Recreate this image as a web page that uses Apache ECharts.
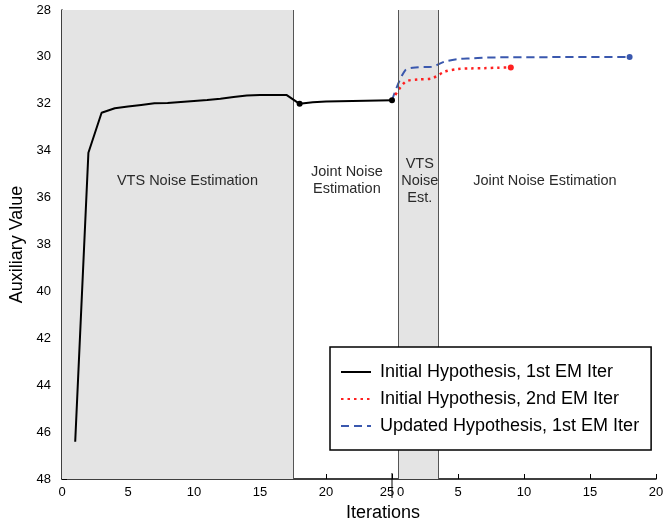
<!DOCTYPE html>
<html style="height: 100%">

<head>
    <meta charset="utf-8">
    <title>Auxiliary value vs iterations</title>
    <script src="https://cdn.jsdelivr.net/npm/echarts@6/dist/echarts.min.js"></script>
</head>

<body style="margin: 0; height: 100%; background: #fff">
    <div id="main" style="width: 663px; height: 522px"></div>

    <script>
        // x positions: second stage iterations are drawn after an offset of 25
        const stageOffset = 25;

        // Initial hypothesis, 1st EM iter (iterations 1..25)
        const initialIters = [1, 2, 3, 4, 5, 6, 7, 8, 9, 10, 11, 12, 13, 14, 15, 16, 17, 18, 19, 20, 21, 22, 23, 24, 25];
        const initial1st = [46.41, 34.09, 32.38, 32.19, 32.12, 32.05, 31.98, 31.97, 31.92, 31.88, 31.84, 31.78, 31.71,
            31.65, 31.62, 31.62, 31.62, 32.0, 31.93, 31.9, 31.89, 31.88, 31.87, 31.86, 31.85];
        const initialMarkers = [18, 25];

        // second stage iterations (0 = last point of the first stage)
        const secondIters = [0, 1, 2, 3, 4, 5, 6, 7, 8, 9, 10, 11, 12, 13, 14, 15, 16, 17, 18];
        const initial2nd = [31.85, 31.07, 30.96, 30.92, 30.63, 30.52, 30.49, 30.48, 30.46, 30.45];
        const updated1st = [31.85, 30.57, 30.44, 30.42, 30.2, 30.09, 30.06, 30.03, 30.02, 30.02, 30.01, 30.01,
            30.01, 30.0, 30.0, 30.0, 30.0, 30.0, 30.0];

        // estimation phases
        const phaseStarts = [0, 17.5, 25.5, 28.5];
        const phaseEnds = [17.5, 25.5, 28.5, 45];
        const phaseNames = ['VTS Noise Estimation', 'Joint Noise\nEstimation', 'VTS\nNoise\nEst.', 'Joint Noise Estimation'];
        const phaseShaded = [true, false, true, false];
        const phaseLabelX = ['54.3%', '51%', '53.5%', '49%'];

        const seriesNames = ['Initial Hypothesis, 1st EM Iter', 'Initial Hypothesis, 2nd EM Iter', 'Updated Hypothesis, 1st EM Iter'];

        const font = 'Liberation Sans, Arial, sans-serif';
        const chart = echarts.init(document.getElementById('main'));

        function buildData(iters, values, offset, markers) {
            return values.map((v, i) => {
                const x = iters[i] + offset;
                if (markers.includes(iters[i])) {
                    return { value: [x, v], symbol: 'circle', symbolSize: 6 };
                }
                return [x, v];
            });
        }

        const areas = phaseStarts.map((s, i) => [
            {
                xAxis: s,
                itemStyle: { color: phaseShaded[i] ? '#e4e4e4' : 'rgba(0,0,0,0)' },
                label: {
                    show: true,
                    formatter: phaseNames[i],
                    position: [phaseLabelX[i], '36.4%'],
                    align: 'center',
                    verticalAlign: 'middle',
                    color: '#2a2a2a',
                    fontSize: 14.5,
                    lineHeight: 17,
                    fontFamily: font
                }
            },
            { xAxis: phaseEnds[i] }
        ]);

        const dividers = [17.5, 25.5, 28.5].map(x => ({ xAxis: x }));

        chart.setOption({
            animation: false,
            grid: { left: 62, top: 10, right: 7, bottom: 43, outerBoundsMode: 'none' },
            legend: {
                orient: 'vertical',
                left: 330,
                top: 347,
                z: 20,
                padding: [16, 12, 15, 10],
                itemGap: 9,
                itemWidth: 30,
                itemHeight: 14,
                backgroundColor: '#fff',
                borderColor: '#000',
                borderWidth: 1.5,
                borderRadius: 0,
                itemStyle: { opacity: 0 },
                textStyle: { fontSize: 18, color: '#000', fontFamily: font, padding: [0, 0, 0, 4] },
                data: seriesNames
            },
            xAxis: {
                type: 'value',
                min: 0,
                max: 45,
                interval: 5,
                name: 'Iterations',
                nameLocation: 'middle',
                nameGap: 22,
                nameTextStyle: { fontSize: 18, color: '#000', fontFamily: font, padding: [0, 0, 0, 48] },
                axisLine: { lineStyle: { color: '#000', width: 1.5 } },
                axisTick: { inside: true, length: 5, lineStyle: { color: '#000' } },
                splitLine: { show: false },
                axisLabel: {
                    fontSize: 13,
                    color: '#000',
                    fontFamily: font,
                    margin: 7,
                    showMaxLabel: true,
                    formatter: v => {
                        if (v === stageOffset) return '{a|25}{b|0}';
                        return v < stageOffset ? String(v) : String(v - stageOffset);
                    },
                    rich: {
                        a: { fontSize: 13, color: '#000', fontFamily: font, padding: [0, 3, 0, 0] },
                        b: { fontSize: 13, color: '#000', fontFamily: font }
                    }
                }
            },
            yAxis: {
                type: 'value',
                inverse: true,
                min: 28,
                max: 48,
                interval: 2,
                name: 'Auxiliary Value',
                nameLocation: 'middle',
                nameGap: 30,
                nameTextStyle: { fontSize: 18, color: '#000', fontFamily: font },
                axisLine: { show: true, lineStyle: { color: '#000', width: 1.5 } },
                axisTick: { show: true, inside: true, length: 5, lineStyle: { color: '#000' } },
                splitLine: { show: false },
                axisLabel: { fontSize: 13, color: '#000', fontFamily: font, margin: 11 }
            },
            series: [
                {
                    name: seriesNames[0],
                    type: 'line',
                    symbol: 'none',
                    color: '#000',
                    lineStyle: { color: '#000', width: 2 },
                    itemStyle: { color: '#000' },
                    data: buildData(initialIters, initial1st, 0, initialMarkers),
                    z: 5,
                    markArea: {
                        silent: true,
                        data: areas
                    },
                    markLine: {
                        silent: true,
                        symbol: 'none',
                        label: { show: false },
                        lineStyle: { color: '#555', width: 1, type: 'solid' },
                        data: dividers
                    }
                },
                {
                    name: seriesNames[1],
                    type: 'line',
                    symbol: 'none',
                    smooth: 0.3,
                    color: '#ff2020',
                    lineStyle: { color: '#ff2020', width: 2.5, type: [2.5, 4] },
                    itemStyle: { color: '#ff2020' },
                    data: buildData(secondIters, initial2nd, stageOffset, [initial2nd.length - 1]),
                    z: 4
                },
                {
                    name: seriesNames[2],
                    type: 'line',
                    symbol: 'none',
                    smooth: 0.3,
                    color: '#3a58ae',
                    lineStyle: { color: '#3a58ae', width: 2, type: [8, 5] },
                    itemStyle: { color: '#3a58ae' },
                    data: buildData(secondIters, updated1st, stageOffset, [updated1st.length - 1]),
                    z: 3
                }
            ]
        });

        // long tick separating the two stages on the x axis
        const sepX = chart.convertToPixel({ xAxisIndex: 0 }, stageOffset);
        const axisY = chart.convertToPixel({ yAxisIndex: 0 }, 48);
        chart.setOption({
            graphic: [{
                type: 'line',
                shape: { x1: sepX, y1: axisY - 6, x2: sepX, y2: axisY + 19 },
                style: { stroke: '#000', lineWidth: 1 },
                z: 100
            }]
        });
    </script>
</body>

</html>
